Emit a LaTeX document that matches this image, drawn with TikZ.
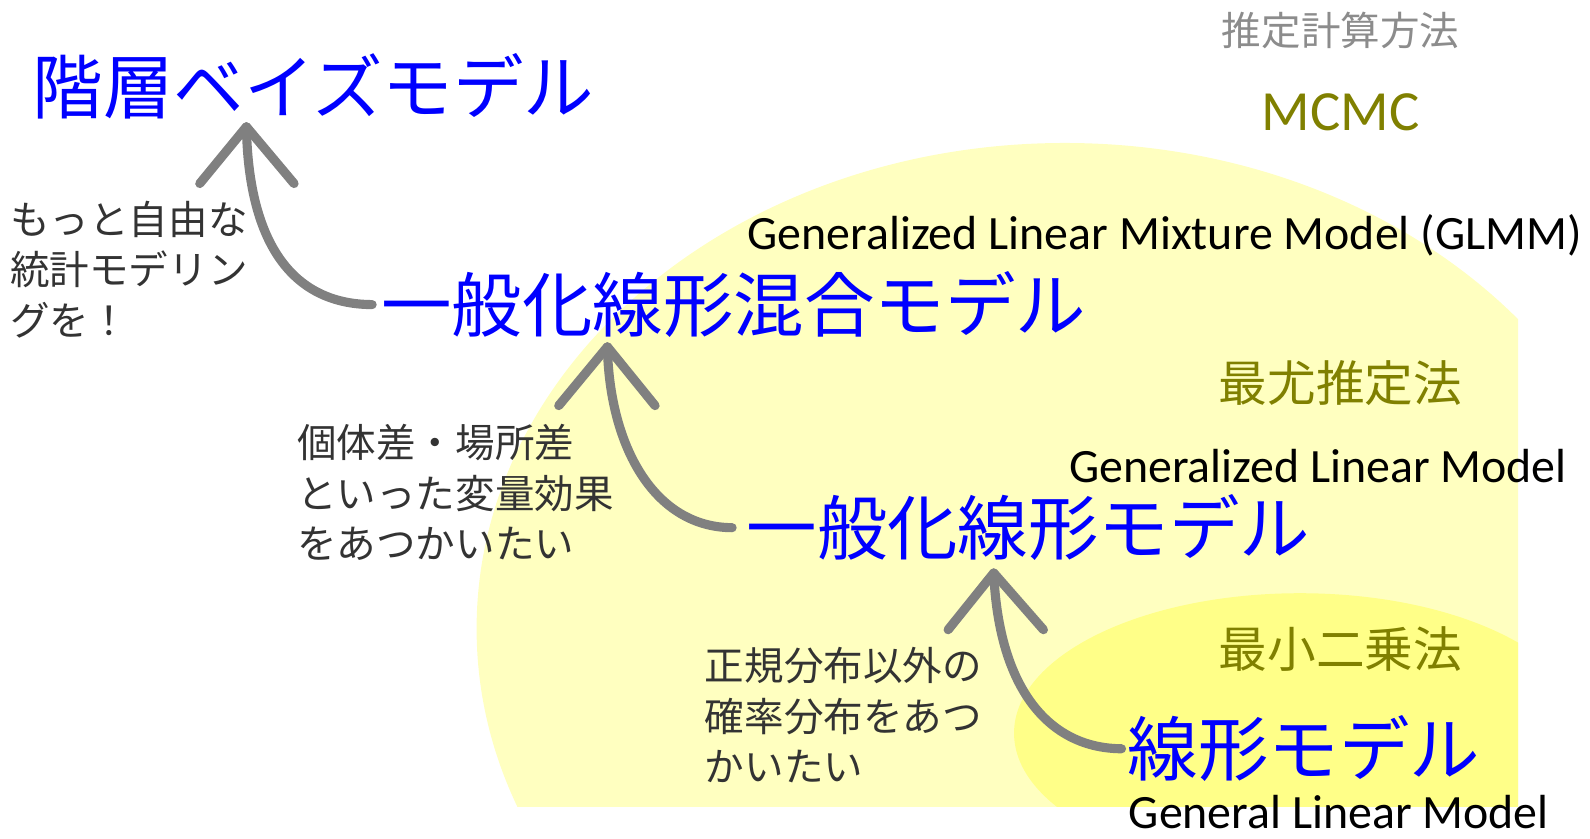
\documentclass[tikz,border=0pt]{standalone}
\usepackage{fontspec}
\newfontfamily\jp{Noto Sans CJK JP}
\newfontfamily\en{Carlito}
\definecolor{mblue}{RGB}{0,0,255}
\definecolor{notegray}{RGB}{51,51,51}
\definecolor{headgray}{RGB}{140,140,140}
\definecolor{olivetext}{RGB}{128,128,0}
\definecolor{paleyellow}{RGB}{255,255,192}
\definecolor{brightyellow}{RGB}{255,255,136}
\definecolor{arrowgray}{RGB}{128,128,128}
\begin{document}
\begin{tikzpicture}[x=1pt,y=-1pt,
  model/.style={font=\jp\fontsize{69.5}{69.5}\selectfont, text=mblue, inner sep=0pt, anchor=base west},
  note/.style={font=\jp\fontsize{39}{50}\selectfont, text=notegray, inner sep=0pt, align=left, anchor=north west},
  method/.style={font=\jp\fontsize{48}{48}\selectfont, text=olivetext, inner sep=0pt},
  eng/.style={font=\en\fontsize{47.2}{47.2}\selectfont, text=black, inner sep=0pt, anchor=base west},
  flow/.style={draw=arrowgray, line width=9pt, line cap=round, line join=round}]
\useasboundingbox (0,0) rectangle (1568,827);
\begin{scope}
  \clip (0,0) rectangle (1497,795);
  \fill[paleyellow] (1050,620) ellipse [x radius=580, y radius=479];
  \fill[brightyellow] (1282,723) ellipse [x radius=282, y radius=138];
\end{scope}

% model names
\node[model] (hbm) at (32,112) {階層ベイズモデル};
\node[model] (glmm) at (376,327) {一般化線形混合モデル};
\node[model] (glm) at (736,547) {一般化線形モデル};
\node[model] (lm) at (1112,765) {線形モデル};

% english names
\node[eng] (glmmE) at (737,246) {Generalized Linear Mixture Model (GLMM)};
\node[eng] (glmE) at (1054,476) {Generalized Linear Model};
\node[eng] (lmE) at (1113,817) {General Linear Model};

% estimation methods
\node[method, text=headgray, font=\jp\fontsize{39}{39}\selectfont] (est) at (1322,30) {推定計算方法};
\node[inner sep=0pt, text=olivetext, font=\en\fontsize{56}{56}\selectfont] (mcmc) at (1322,111) {MCMC};
\node[method] (ml) at (1322,378) {最尤推定法};
\node[method] (ls) at (1322,640) {最小二乗法};

% notes
\node[note] (n1) at (10,198) {もっと自由な\\統計モデリン\\グを！};
\node[note] (n2) at (293,418) {個体差・場所差\\といった変量効果\\をあつかいたい};
\node[note] (n3) at (695,638) {正規分布以外の\\確率分布をあつ\\かいたい};

% arrow tips and arms
\coordinate (tipA) at (243,125);
\coordinate (lA) at (197,181);
\coordinate (rA) at (290,181);
\coordinate (tipB) at (599,342);
\coordinate (lB) at (551,400);
\coordinate (rB) at (646,400);
\coordinate (tipC) at (980,565);
\coordinate (lC) at (935,621);
\coordinate (rC) at (1029,621);

\draw[flow] ([xshift=-9pt]glmm.west) .. controls (285,300) and (245,235) .. (tipA);
\draw[flow] (lA) -- (tipA) -- (rA);
\draw[flow] ([xshift=-14pt]glm.west) .. controls (645,520) and (601,440) .. (tipB);
\draw[flow] (lB) -- (tipB) -- (rB);
\draw[flow] ([xshift=-6pt]lm.west) .. controls (1035,738) and (985,680) .. (tipC);
\draw[flow] (lC) -- (tipC) -- (rC);
\end{tikzpicture}
\end{document}
